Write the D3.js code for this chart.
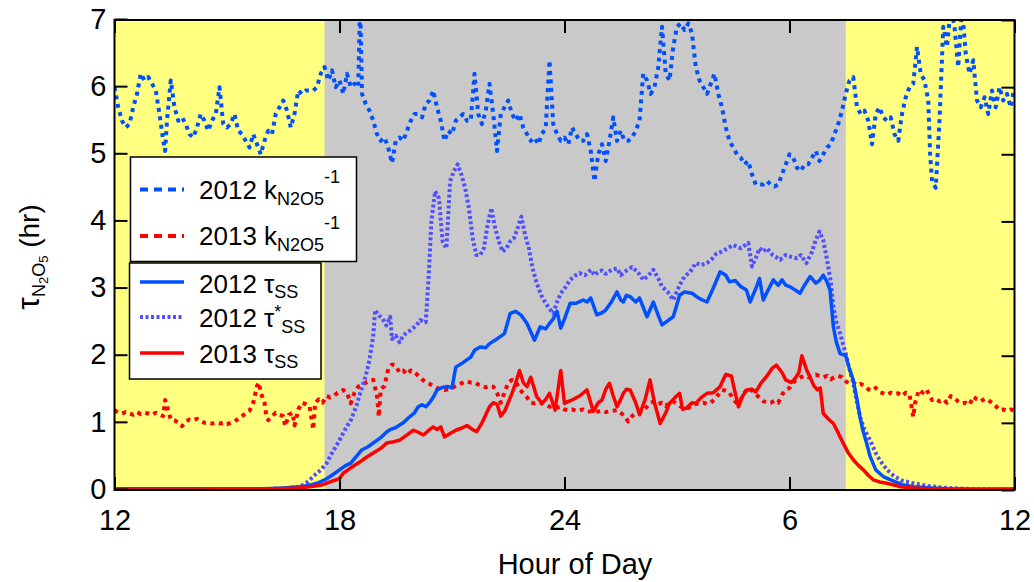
<!DOCTYPE html>
<html>
<head>
<meta charset="utf-8">
<script src="https://cdn.jsdelivr.net/npm/d3@7"></script>
<style>
  body { margin: 0; background: #fff; }
  text { font-family: "Liberation Sans", Arial, Helvetica, sans-serif; fill: #000; }
</style>
</head>
<body>
<div id="chartContainer"></div>
<script>
// hour of day (12 = noon, 36 = noon next day), value in hours
var k2012 = [[12.0,6.0],[12.1,5.7],[12.2,5.5],[12.3,5.4],[12.4,5.45],[12.5,5.7],[12.6,5.9],[12.7,6.2],[12.8,6.1],[12.9,6.15],[13.0,6.05],[13.1,5.95],[13.2,5.6],[13.3,5.2],[13.35,5.05],[13.4,5.5],[13.5,6.1],[13.6,5.7],[13.7,5.5],[13.8,5.55],[13.9,5.45],[14.0,5.3],[14.1,5.25],[14.2,5.4],[14.3,5.6],[14.4,5.5],[14.5,5.35],[14.6,5.5],[14.7,5.6],[14.8,6.0],[14.9,5.45],[15.0,5.4],[15.1,5.45],[15.2,5.6],[15.3,5.35],[15.4,5.3],[15.5,5.2],[15.6,5.1],[15.7,5.3],[15.8,5.15],[15.9,5.0],[16.0,5.2],[16.1,5.35],[16.2,5.3],[16.3,5.6],[16.4,5.7],[16.5,5.8],[16.6,5.65],[16.7,5.4],[16.8,5.6],[16.9,5.95],[17.0,5.9],[17.1,5.95],[17.2,5.95],[17.3,5.95],[17.4,6.0],[17.5,6.2],[17.6,6.3],[17.7,6.1],[17.8,6.25],[17.9,6.0],[18.0,6.1],[18.1,5.9],[18.2,6.2],[18.3,6.0],[18.4,6.05],[18.5,6.0],[18.55,7.3],[18.6,5.9],[18.7,5.75],[18.8,5.65],[18.9,5.5],[19.0,5.3],[19.1,5.2],[19.2,5.25],[19.3,5.1],[19.4,4.87],[19.5,5.2],[19.6,5.25],[19.7,5.2],[19.8,5.35],[19.9,5.5],[20.0,5.6],[20.1,5.6],[20.2,5.55],[20.3,5.75],[20.4,5.8],[20.5,5.95],[20.6,5.7],[20.7,5.5],[20.8,5.2],[20.9,5.35],[21.0,5.3],[21.1,5.5],[21.2,5.55],[21.3,5.6],[21.4,5.5],[21.5,5.5],[21.6,6.2],[21.7,5.6],[21.8,5.45],[21.9,5.65],[22.0,6.05],[22.1,5.6],[22.2,5.05],[22.3,5.6],[22.4,5.7],[22.5,5.8],[22.6,5.6],[22.7,5.5],[22.8,5.6],[22.9,5.4],[23.0,5.3],[23.1,5.2],[23.2,5.25],[23.3,5.15],[23.4,5.3],[23.5,5.4],[23.6,6.4],[23.7,5.45],[23.8,5.3],[23.9,5.2],[24.0,5.25],[24.1,5.15],[24.2,5.4],[24.3,5.3],[24.4,5.2],[24.5,5.2],[24.6,5.3],[24.7,5.05],[24.8,4.6],[24.9,5.0],[25.0,5.15],[25.1,4.9],[25.2,5.2],[25.3,5.55],[25.4,5.2],[25.5,5.35],[25.6,5.2],[25.7,5.2],[25.8,5.25],[25.9,5.35],[26.0,5.5],[26.1,6.2],[26.2,6.1],[26.3,5.9],[26.4,6.0],[26.5,6.3],[26.6,6.9],[26.7,6.2],[26.8,6.1],[26.9,6.6],[27.0,6.9],[27.1,6.95],[27.2,6.85],[27.3,6.95],[27.4,6.8],[27.5,6.3],[27.6,6.1],[27.7,6.0],[27.8,5.9],[27.9,6.05],[28.0,6.2],[28.1,5.9],[28.2,5.7],[28.3,5.4],[28.4,5.2],[28.5,5.1],[28.6,5.0],[28.7,4.95],[28.8,4.85],[28.9,4.9],[29.0,4.7],[29.1,4.55],[29.2,4.55],[29.3,4.55],[29.4,4.6],[29.5,4.55],[29.6,4.52],[29.7,4.55],[29.8,4.7],[29.9,4.85],[30.0,5.0],[30.1,4.95],[30.2,4.8],[30.3,4.75],[30.4,4.85],[30.5,4.85],[30.6,4.95],[30.7,5.05],[30.8,4.9],[30.9,5.0],[31.0,5.1],[31.1,5.15],[31.2,5.3],[31.3,5.45],[31.4,5.65],[31.5,5.9],[31.6,6.1],[31.7,6.15],[31.8,5.7],[31.9,5.6],[32.0,5.65],[32.1,5.5],[32.2,5.15],[32.3,5.6],[32.4,5.7],[32.5,5.55],[32.6,5.5],[32.7,5.55],[32.8,5.3],[32.9,5.2],[33.0,5.6],[33.1,5.85],[33.2,6.0],[33.3,6.05],[33.4,6.6],[33.5,6.2],[33.6,6.1],[33.7,5.8],[33.75,5.0],[33.8,4.6],[33.9,4.5],[34.0,5.5],[34.1,6.9],[34.2,6.6],[34.3,7.2],[34.4,6.9],[34.5,6.3],[34.6,7.2],[34.7,6.5],[34.8,6.2],[34.9,6.4],[35.0,5.8],[35.1,5.7],[35.2,5.85],[35.3,5.6],[35.4,5.95],[35.5,5.7],[35.6,6.0],[35.7,5.8],[35.8,5.9],[35.9,5.7],[36.0,6.0]]

var k2013 = [[12.0,1.19],[12.1,1.15],[12.2,1.14],[12.3,1.16],[12.4,1.14],[12.5,1.12],[12.6,1.16],[12.7,1.13],[12.8,1.15],[12.9,1.14],[13.0,1.12],[13.1,1.15],[13.2,1.13],[13.3,1.1],[13.35,1.34],[13.45,1.15],[13.5,1.05],[13.6,1.04],[13.7,1.0],[13.8,0.95],[13.9,1.02],[14.0,1.05],[14.1,1.04],[14.2,1.06],[14.3,1.03],[14.4,1.0],[14.5,1.0],[14.6,0.99],[14.7,1.0],[14.8,0.99],[14.9,1.0],[15.0,0.98],[15.1,1.0],[15.2,1.02],[15.3,1.06],[15.4,1.1],[15.5,1.14],[15.6,1.18],[15.7,1.3],[15.8,1.55],[15.85,1.6],[15.9,1.45],[16.0,1.3],[16.05,1.1],[16.1,1.04],[16.2,1.1],[16.3,1.15],[16.4,1.12],[16.5,1.1],[16.55,0.95],[16.65,1.12],[16.75,1.15],[16.8,0.96],[16.9,1.2],[17.0,1.3],[17.1,1.28],[17.2,1.25],[17.3,0.9],[17.35,1.3],[17.45,1.35],[17.55,1.3],[17.65,1.4],[17.75,1.38],[17.85,1.4],[17.95,1.45],[18.1,1.49],[18.2,1.45],[18.3,1.29],[18.4,1.45],[18.5,1.54],[18.6,1.56],[18.7,1.6],[18.8,1.62],[18.9,1.64],[19.0,1.4],[19.05,1.09],[19.1,1.5],[19.2,1.55],[19.3,1.8],[19.4,1.87],[19.5,1.85],[19.6,1.75],[19.7,1.78],[19.8,1.72],[19.9,1.78],[20.0,1.76],[20.1,1.7],[20.2,1.65],[20.3,1.6],[20.4,1.58],[20.5,1.55],[20.6,1.52],[20.7,1.5],[20.8,1.49],[20.9,1.5],[21.0,1.52],[21.1,1.55],[21.2,1.58],[21.3,1.6],[21.4,1.62],[21.5,1.6],[21.6,1.6],[21.7,1.57],[21.8,1.54],[21.9,1.53],[22.0,1.55],[22.1,1.54],[22.2,1.45],[22.3,1.3],[22.4,1.45],[22.5,1.6],[22.6,1.64],[22.7,1.62],[22.8,1.5],[22.9,1.44],[23.0,1.38],[23.1,1.3],[23.2,1.29],[23.3,1.3],[23.4,1.29],[23.5,1.27],[23.6,1.24],[23.7,1.25],[23.8,1.23],[23.9,1.24],[24.0,1.2],[24.1,1.19],[24.2,1.2],[24.3,1.18],[24.4,1.19],[24.5,1.2],[24.6,1.17],[24.7,1.17],[24.8,1.16],[24.9,1.17],[25.0,1.18],[25.1,1.16],[25.2,1.17],[25.3,1.18],[25.4,1.19],[25.5,1.15],[25.6,1.1],[25.7,1.02],[25.8,1.1],[25.9,1.14],[26.0,1.15],[26.1,1.18],[26.2,1.24],[26.3,1.3],[26.4,1.32],[26.5,1.28],[26.6,1.3],[26.7,1.25],[26.8,1.3],[26.9,1.32],[27.0,1.28],[27.1,1.24],[27.2,1.25],[27.3,1.22],[27.4,1.26],[27.5,1.28],[27.6,1.29],[27.7,1.3],[27.8,1.28],[27.9,1.3],[28.0,1.35],[28.1,1.42],[28.2,1.49],[28.3,1.48],[28.4,1.45],[28.5,1.35],[28.6,1.29],[28.7,1.35],[28.8,1.45],[28.9,1.52],[29.0,1.48],[29.1,1.42],[29.2,1.38],[29.3,1.32],[29.4,1.31],[29.5,1.3],[29.6,1.33],[29.7,1.3],[29.8,1.42],[29.9,1.49],[30.0,1.52],[30.1,1.6],[30.2,1.65],[30.3,1.68],[30.4,1.7],[30.5,1.68],[30.6,1.7],[30.7,1.72],[30.8,1.7],[30.9,1.68],[31.0,1.7],[31.1,1.65],[31.2,1.68],[31.3,1.7],[31.4,1.68],[31.5,1.62],[31.6,1.58],[31.7,1.6],[31.8,1.56],[31.9,1.58],[32.0,1.55],[32.1,1.5],[32.2,1.48],[32.3,1.52],[32.4,1.46],[32.5,1.44],[32.6,1.42],[32.7,1.45],[32.8,1.43],[32.9,1.44],[33.0,1.4],[33.1,1.45],[33.2,1.42],[33.3,1.09],[33.35,1.3],[33.45,1.49],[33.55,1.45],[33.65,1.5],[33.8,1.34],[33.9,1.36],[34.0,1.32],[34.1,1.35],[34.2,1.3],[34.3,1.4],[34.4,1.36],[34.5,1.32],[34.6,1.29],[34.7,1.3],[34.8,1.27],[34.9,1.39],[35.0,1.35],[35.1,1.32],[35.2,1.36],[35.3,1.34],[35.4,1.3],[35.5,1.25],[35.6,1.19],[35.7,1.2],[35.8,1.18],[35.9,1.2],[36.0,1.18]]

var tau2012 = [[12,0.02],[13,0.02],[14,0.02],[15,0.02],[16,0.02],[16.5,0.03],[16.95,0.05],[17.2,0.07],[17.4,0.1],[17.6,0.15],[17.8,0.22],[18.0,0.3],[18.15,0.36],[18.3,0.4],[18.45,0.5],[18.6,0.6],[18.75,0.64],[18.9,0.7],[19.1,0.78],[19.25,0.86],[19.35,0.9],[19.5,0.93],[19.7,1.0],[19.85,1.08],[20.0,1.15],[20.1,1.24],[20.2,1.27],[20.3,1.24],[20.4,1.3],[20.5,1.38],[20.6,1.49],[20.75,1.53],[20.9,1.54],[21.0,1.52],[21.1,1.83],[21.3,1.9],[21.5,1.98],[21.6,2.08],[21.75,2.13],[21.9,2.12],[22.0,2.18],[22.2,2.25],[22.4,2.33],[22.55,2.63],[22.7,2.66],[22.85,2.6],[23.0,2.48],[23.2,2.23],[23.35,2.43],[23.5,2.4],[23.6,2.48],[23.7,2.55],[23.8,2.66],[23.9,2.41],[24.0,2.55],[24.15,2.78],[24.3,2.78],[24.5,2.83],[24.6,2.8],[24.7,2.86],[24.86,2.61],[25.0,2.64],[25.1,2.68],[25.25,2.8],[25.4,2.95],[25.5,2.83],[25.57,2.8],[25.65,2.9],[25.75,2.88],[25.9,2.8],[26.0,2.86],[26.2,2.58],[26.37,2.8],[26.5,2.6],[26.6,2.46],[26.75,2.52],[26.9,2.58],[27.07,2.9],[27.2,2.95],[27.4,2.93],[27.6,2.85],[27.8,2.8],[28.0,3.05],[28.15,3.25],[28.3,3.2],[28.4,3.1],[28.55,3.12],[28.7,3.03],[28.85,2.98],[28.95,2.8],[29.1,3.0],[29.2,3.15],[29.3,2.83],[29.45,3.0],[29.57,3.13],[29.7,3.05],[29.8,3.13],[29.9,3.05],[30.0,3.03],[30.15,2.98],[30.28,2.93],[30.4,3.05],[30.55,3.18],[30.7,3.08],[30.8,3.12],[30.9,3.2],[31.0,3.1],[31.08,2.98],[31.17,2.43],[31.25,2.2],[31.35,2.03],[31.5,2.0],[31.6,1.8],[31.7,1.64],[31.8,1.35],[31.88,1.09],[31.95,0.9],[32.06,0.69],[32.15,0.5],[32.3,0.3],[32.5,0.2],[32.7,0.15],[33.0,0.08],[33.3,0.05],[33.8,0.03],[34.2,0.02],[35,0.01],[36,0.01]]

var tauStar2012 = [[12,0.0],[14,0.0],[16,0.01],[16.6,0.03],[16.95,0.05],[17.15,0.12],[17.3,0.2],[17.5,0.3],[17.66,0.4],[17.8,0.55],[18.0,0.74],[18.15,0.9],[18.3,1.04],[18.45,1.25],[18.55,1.44],[18.7,1.7],[18.8,1.94],[18.9,2.3],[18.95,2.68],[19.05,2.6],[19.15,2.55],[19.25,2.45],[19.35,2.58],[19.4,2.25],[19.5,2.3],[19.6,2.2],[19.7,2.3],[19.8,2.35],[19.9,2.38],[20.05,2.45],[20.15,2.53],[20.3,2.5],[20.38,3.2],[20.45,4.0],[20.55,4.45],[20.65,4.35],[20.75,3.7],[20.85,3.6],[20.95,4.6],[21.05,4.75],[21.15,4.85],[21.25,4.7],[21.35,4.5],[21.45,4.2],[21.55,3.75],[21.65,3.5],[21.75,3.5],[21.85,3.6],[21.95,3.95],[22.05,4.2],[22.15,3.9],[22.25,3.7],[22.35,3.55],[22.45,3.6],[22.55,3.7],[22.65,3.75],[22.75,3.9],[22.85,4.07],[22.95,3.8],[23.05,3.6],[23.15,3.3],[23.26,3.08],[23.38,2.9],[23.5,2.78],[23.6,2.7],[23.7,2.63],[23.8,2.8],[23.9,2.93],[24.0,3.0],[24.15,3.13],[24.3,3.2],[24.4,3.23],[24.55,3.2],[24.7,3.28],[24.8,3.2],[24.9,3.25],[25.0,3.27],[25.1,3.22],[25.25,3.28],[25.4,3.3],[25.5,3.2],[25.6,3.25],[25.8,3.32],[25.95,3.25],[26.1,3.13],[26.25,3.2],[26.37,3.28],[26.5,3.15],[26.6,3.03],[26.75,2.95],[26.9,2.83],[27.07,3.05],[27.2,3.18],[27.35,3.25],[27.5,3.38],[27.65,3.35],[27.8,3.38],[27.95,3.45],[28.05,3.52],[28.2,3.55],[28.35,3.6],[28.5,3.65],[28.7,3.6],[28.9,3.68],[29.0,3.33],[29.1,3.45],[29.2,3.6],[29.3,3.55],[29.4,3.6],[29.55,3.5],[29.75,3.43],[29.9,3.5],[30.0,3.48],[30.2,3.45],[30.3,3.5],[30.45,3.38],[30.6,3.55],[30.7,3.72],[30.8,3.85],[30.9,3.72],[31.0,3.43],[31.1,3.1],[31.17,2.73],[31.25,2.5],[31.35,2.33],[31.5,2.03],[31.6,1.8],[31.7,1.59],[31.8,1.3],[31.88,1.09],[32.0,0.9],[32.15,0.74],[32.3,0.55],[32.4,0.45],[32.6,0.3],[32.8,0.2],[33.0,0.14],[33.3,0.1],[33.7,0.06],[34.2,0.03],[35,0.01],[36,0.01]]

var tau2013 = [[12,0.0],[14,0.0],[16,0.01],[16.9,0.03],[17.2,0.05],[17.5,0.07],[17.75,0.12],[18.0,0.17],[18.1,0.25],[18.3,0.33],[18.55,0.42],[18.7,0.48],[18.9,0.55],[19.1,0.62],[19.26,0.7],[19.45,0.72],[19.6,0.74],[19.8,0.82],[19.97,0.89],[20.1,0.86],[20.24,0.82],[20.4,0.9],[20.5,0.94],[20.6,0.9],[20.7,0.94],[20.8,0.79],[20.95,0.84],[21.1,0.89],[21.25,0.92],[21.4,0.96],[21.55,0.9],[21.66,0.87],[21.8,1.0],[21.9,1.12],[22.0,1.24],[22.1,1.3],[22.2,1.28],[22.3,1.1],[22.4,1.17],[22.5,1.3],[22.6,1.44],[22.7,1.6],[22.8,1.78],[22.9,1.6],[23.0,1.54],[23.1,1.68],[23.2,1.5],[23.26,1.39],[23.4,1.29],[23.5,1.35],[23.6,1.44],[23.75,1.19],[23.9,1.78],[24.0,1.29],[24.1,1.32],[24.2,1.34],[24.4,1.4],[24.6,1.49],[24.77,1.17],[24.9,1.3],[25.0,1.34],[25.1,1.5],[25.2,1.59],[25.3,1.4],[25.4,1.24],[25.5,1.35],[25.57,1.44],[25.65,1.5],[25.75,1.49],[25.9,1.3],[26.0,1.12],[26.15,1.35],[26.28,1.64],[26.4,1.3],[26.55,0.99],[26.7,1.15],[26.8,1.29],[26.95,1.38],[27.07,1.44],[27.15,1.2],[27.25,1.22],[27.4,1.3],[27.5,1.29],[27.65,1.38],[27.8,1.44],[27.97,1.45],[28.15,1.54],[28.3,1.72],[28.45,1.7],[28.55,1.45],[28.64,1.24],[28.75,1.4],[28.86,1.49],[29.0,1.5],[29.1,1.46],[29.25,1.6],[29.4,1.7],[29.55,1.82],[29.65,1.86],[29.8,1.75],[29.9,1.64],[30.05,1.6],[30.15,1.66],[30.25,1.75],[30.33,2.0],[30.45,1.8],[30.55,1.68],[30.65,1.55],[30.75,1.49],[30.82,1.52],[30.9,1.14],[31.05,1.05],[31.17,0.99],[31.3,0.85],[31.44,0.69],[31.57,0.55],[31.7,0.45],[31.85,0.36],[31.97,0.3],[32.1,0.22],[32.24,0.15],[32.4,0.12],[32.6,0.1],[32.95,0.05],[33.3,0.03],[34,0.01],[36,0.01]]

// night (gray) band, hours
var nightBand = [17.6, 31.5]
var xTicks = [12, 18, 24, 30, 36]
var xTickLabels = ['12', '18', '24', '6', '12']
var yTicks = [0, 1, 2, 3, 4, 5, 6, 7]

var blue = '#0050ff', blueLight = '#5050ff', red = '#ff0000'

var W = 1034, H = 582
var m = {left: 114.5, right: 1014.5, top: 20, bottom: 490}

var svg = d3.select('#chartContainer').append('svg')
    .attr('width', W).attr('height', H)

var xScale = d3.scaleLinear().domain([12, 36]).range([m.left, m.right])
var yScale = d3.scaleLinear().domain([0, 7]).range([m.bottom, m.top])

svg.append('clipPath').attr('id', 'plotClip')
   .append('rect')
   .attr('x', m.left).attr('y', m.top)
   .attr('width', m.right - m.left).attr('height', m.bottom - m.top)

// background bands
svg.append('rect')
   .attr('x', m.left).attr('y', m.top)
   .attr('width', m.right - m.left).attr('height', m.bottom - m.top)
   .style('fill', '#ffff80')
svg.append('rect')
   .attr('x', xScale(nightBand[0])).attr('y', m.top)
   .attr('width', xScale(nightBand[1]) - xScale(nightBand[0]))
   .attr('height', m.bottom - m.top)
   .style('fill', '#c9c9c9')

var line = d3.line()
    .x(function(d){ return xScale(d[0]) })
    .y(function(d){ return yScale(d[1]) })

var series = [
    {data: k2012, color: blue, width: 4, dash: '4,4.5', legDash: '8,6'},
    {data: k2013, color: red, width: 4, dash: '4,4.5', legDash: '8,6'},
    {data: tauStar2012, color: blueLight, width: 4, dash: '3,2.5', legDash: '3,2.5'},
    {data: tau2012, color: blue, width: 3.5, dash: null, legDash: null},
    {data: tau2013, color: red, width: 3.5, dash: null, legDash: null}
]

var plot = svg.append('g').attr('clip-path', 'url(#plotClip)')
plot.selectAll('.series')
    .data(series)
    .enter()
    .append('path')
    .attr('class', 'series')
    .attr('d', function(d){ return line(d.data) })
    .style('fill', 'none')
    .style('stroke', function(d){ return d.color })
    .style('stroke-width', function(d){ return d.width })
    .style('stroke-dasharray', function(d){ return d.dash })
    .style('stroke-linejoin', 'round')

// legends
var leg2 = svg.append('g')
leg2.append('rect').attr('x', 129.5).attr('y', 263).attr('width', 191.5).attr('height', 116)
    .style('fill', '#fff').style('stroke', '#000').style('stroke-width', 1.5)
var leg1 = svg.append('g')
leg1.append('rect').attr('x', 130.5).attr('y', 157).attr('width', 226).attr('height', 104.5)
    .style('fill', '#fff').style('stroke', '#000').style('stroke-width', 1.5)

function sample(g, y, s) {
    g.append('line').attr('x1', 140).attr('x2', 184).attr('y1', y).attr('y2', y)
     .style('stroke', s.color).style('stroke-width', s.width)
     .style('stroke-dasharray', s.legDash)
}

sample(leg1, 189.5, series[0])
sample(leg1, 236, series[1])
sample(leg2, 282, series[3])
sample(leg2, 317, series[2])
sample(leg2, 353, series[4])

function kLabel(g, yr, base) {
    var t = g.append('text').attr('x', 199).attr('y', base).style('font-size', '26px')
    t.append('tspan').text(yr + ' k')
    t.append('tspan').attr('dy', 6).style('font-size', '18px').text('N2O5')
    t.append('tspan').attr('dy', -22).style('font-size', '18px').text('-1')
}
kLabel(leg1, '2012', 199)
kLabel(leg1, '2013', 245)

function tauLabel(g, yr, base, star) {
    var t = g.append('text').attr('x', 199).attr('y', base).style('font-size', '26px')
    t.append('tspan').text(yr + ' τ')
    if (star) {
        t.append('tspan').attr('dy', -9).style('font-size', '18px').text('*')
        t.append('tspan').attr('dy', 15).style('font-size', '18px').text('SS')
    } else {
        t.append('tspan').attr('dy', 5).style('font-size', '18px').text('SS')
    }
}
tauLabel(leg2, '2012', 292.5, false)
tauLabel(leg2, '2012', 327, true)
tauLabel(leg2, '2013', 363, false)

// axes with inward ticks
var axisLeft = d3.axisLeft(yScale).tickValues(yTicks).tickSize(-13).tickPadding(8)
    .tickFormat(function(d){ return String(d) })
var axisRight = d3.axisRight(yScale).tickValues(yTicks).tickSize(-13).tickFormat('')
var axisTop = d3.axisTop(xScale).tickValues(xTicks).tickSize(-13).tickFormat('')
var axisBottom = d3.axisBottom(xScale).tickValues(xTicks).tickSize(-13).tickPadding(19)
    .tickFormat(function(d, i){ return xTickLabels[i] })

function styleAxis(g) {
    g.select('.domain').remove()
    g.selectAll('.tick line').style('stroke', '#000').style('stroke-width', 2)
    g.selectAll('.tick text').style('font-size', '29px')
        .style('font-family', '"Liberation Sans", Arial, sans-serif').style('fill', '#000')
}

svg.append('g').attr('transform', 'translate(' + m.left + ',-1)').call(axisLeft).call(styleAxis)
svg.append('g').attr('transform', 'translate(' + m.right + ',0)').call(axisRight).call(styleAxis)
svg.append('g').attr('transform', 'translate(0,' + m.top + ')').call(axisTop).call(styleAxis)
svg.append('g').attr('transform', 'translate(0,' + m.bottom + ')').call(axisBottom).call(styleAxis)

svg.append('rect')
   .attr('x', m.left).attr('y', m.top)
   .attr('width', m.right - m.left).attr('height', m.bottom - m.top)
   .style('fill', 'none').style('stroke', '#000').style('stroke-width', 2)

// axis titles
svg.append('text')
   .attr('x', 575).attr('y', 574)
   .attr('text-anchor', 'middle')
   .style('font-size', '29px')
   .text('Hour of Day')

var yt = svg.append('text')
   .attr('transform', 'translate(39,257) rotate(-90)')
   .attr('text-anchor', 'middle')
   .style('font-size', '28px')
yt.append('tspan').style('font-size', '32px').text('τ')
yt.append('tspan').attr('dy', 6).style('font-size', '18px').text('N')
yt.append('tspan').attr('dy', 3).style('font-size', '13px').text('2')
yt.append('tspan').attr('dy', -3).style('font-size', '18px').text('O')
yt.append('tspan').attr('dy', 3).style('font-size', '13px').text('5')
yt.append('tspan').attr('dy', -9).text(' (hr)')
</script>
</body>
</html>
